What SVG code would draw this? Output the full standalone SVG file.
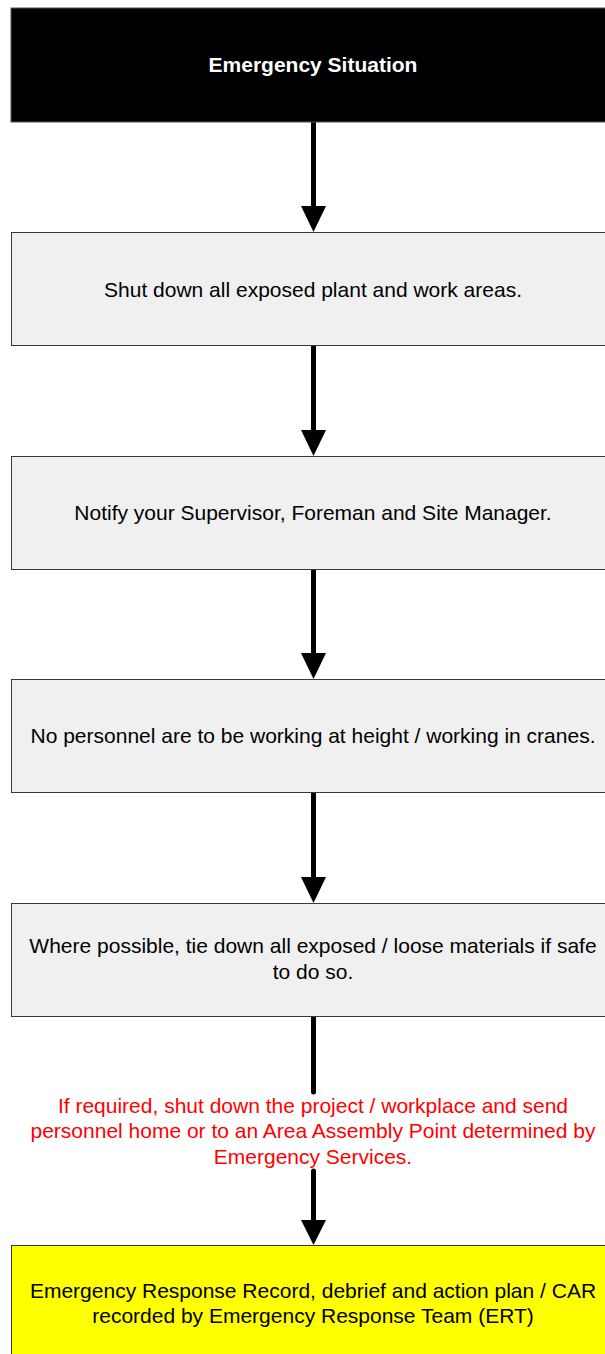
<svg xmlns="http://www.w3.org/2000/svg" width="605" height="1354" viewBox="0 0 605 1354">
  <style>
    .box { fill: #f0f0f0; stroke: #3a3a3a; stroke-width: 1; }
    .lbl { font-family: "Liberation Sans", Arial, sans-serif; font-size: 21px; fill: #000; text-anchor: middle; }
    .title { font-weight: bold; fill: #fff; }
    .note { fill: #ff0000; }
    .wire { stroke: #000; stroke-width: 5; stroke-linecap: round; fill: none; }
    .head { fill: #000; }
  </style>

  <!-- connectors -->
  <g id="connectors">
    <line class="wire" x1="313.5" y1="122" x2="313.5" y2="208"/>
    <polygon class="head" points="301,206 326,206 313.5,232"/>
    <line class="wire" x1="313.5" y1="345" x2="313.5" y2="432"/>
    <polygon class="head" points="301,430 326,430 313.5,456"/>
    <line class="wire" x1="313.5" y1="569" x2="313.5" y2="655"/>
    <polygon class="head" points="301,653 326,653 313.5,679"/>
    <line class="wire" x1="313.5" y1="792" x2="313.5" y2="879"/>
    <polygon class="head" points="301,877 326,877 313.5,903"/>
    <line class="wire" x1="313.5" y1="1016" x2="313.5" y2="1092"/>
    <line class="wire" x1="313.5" y1="1171" x2="313.5" y2="1222"/>
    <polygon class="head" points="301,1220 326,1220 313.5,1245"/>
  </g>

  <g id="node-emergency">
    <rect x="11" y="8" width="600" height="114" fill="#000" stroke="#555" stroke-width="1"/>
    <text class="lbl title" x="313" y="72">Emergency Situation</text>
  </g>

  <g id="node-shutdown">
    <rect class="box" x="11.5" y="232.5" width="600" height="113"/>
    <text class="lbl" x="313" y="297">Shut down all exposed plant and work areas.</text>
  </g>

  <g id="node-notify">
    <rect class="box" x="11.5" y="456.5" width="600" height="113"/>
    <text class="lbl" x="313" y="520">Notify your Supervisor, Foreman and Site Manager.</text>
  </g>

  <g id="node-height">
    <rect class="box" x="11.5" y="679.5" width="600" height="113"/>
    <text class="lbl" x="313" y="743">No personnel are to be working at height / working in cranes.</text>
  </g>

  <g id="node-tiedown">
    <rect class="box" x="11.5" y="903.5" width="600" height="113"/>
    <text class="lbl" x="313" y="953">Where possible, tie down all exposed / loose materials if safe</text>
    <text class="lbl" x="313" y="979">to do so.</text>
  </g>

  <g id="label-evacuate">
    <text class="lbl note" x="313" y="1113">If required, shut down the project / workplace and send</text>
    <text class="lbl note" x="313" y="1138">personnel home or to an Area Assembly Point determined by</text>
    <text class="lbl note" x="313" y="1164">Emergency Services.</text>
  </g>

  <g id="node-record">
    <rect x="11.5" y="1245.5" width="600" height="120" fill="#ffff00" stroke="#3a3a3a" stroke-width="1"/>
    <text class="lbl" x="313" y="1298">Emergency Response Record, debrief and action plan / CAR</text>
    <text class="lbl" x="313" y="1323">recorded by Emergency Response Team (ERT)</text>
  </g>
</svg>
